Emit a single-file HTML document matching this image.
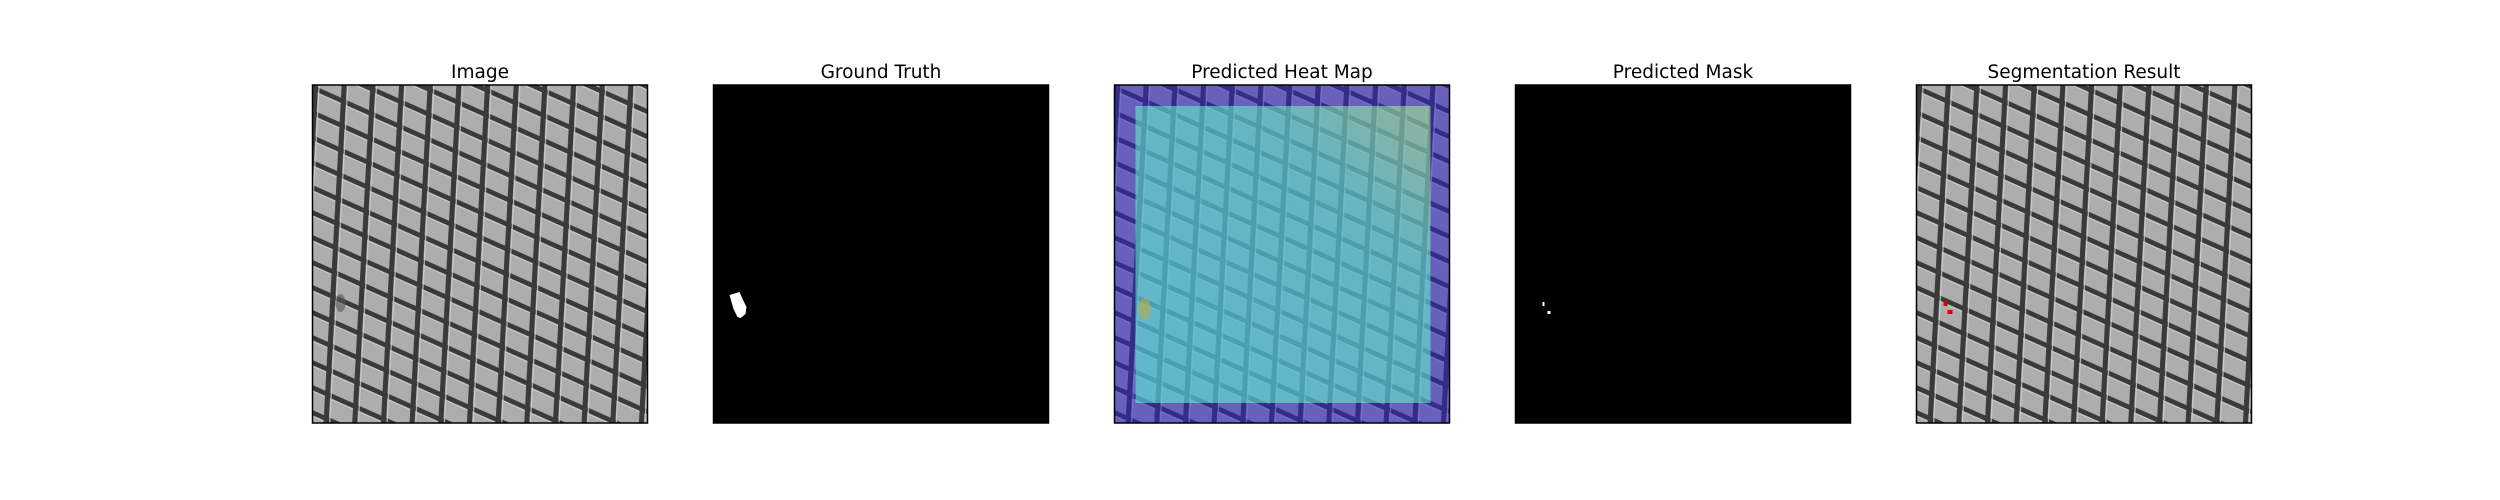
<!DOCTYPE html>
<html><head><meta charset="utf-8"><style>
html,body{margin:0;padding:0;background:#fff;}
svg{display:block;}
text{font-family:"DejaVu Sans","Liberation Sans",sans-serif;font-size:18.5px;fill:#000;}
</style></head><body>
<svg id="fig" width="2500" height="500" viewBox="0 0 2500 500" xmlns="http://www.w3.org/2000/svg">
<defs>
<pattern id="mesh" patternUnits="userSpaceOnUse" width="28" height="25" patternTransform="skewY(24) skewX(-3)">
<rect width="28" height="25" fill="#adadad"/>
<line x1="0" y1="2.5" x2="28" y2="2.5" stroke="#3a3a3a" stroke-width="5.5"/>
<line x1="0" y1="6" x2="28" y2="6" stroke="#d2d2d2" stroke-width="1"/>
<line x1="3" y1="0" x2="3" y2="25" stroke="#3a3a3a" stroke-width="5"/>
<line x1="6.5" y1="0" x2="6.5" y2="25" stroke="#d0d0d0" stroke-width="1"/>
</pattern>
<linearGradient id="hg" x1="0" y1="1" x2="1" y2="0">
<stop offset="0" stop-color="rgba(90,255,215,0.55)"/>
<stop offset="0.7" stop-color="rgba(100,250,200,0.55)"/>
<stop offset="1" stop-color="rgba(180,245,130,0.55)"/>
</linearGradient>
<clipPath id="c0"><rect x="0" y="0" width="335" height="338"/></clipPath>
</defs>
<g id="panels"></g>
</svg>
<script>
var titles = ["Image","Ground Truth","Predicted Heat Map","Predicted Mask","Segmentation Result"];
var panelNames = ["image-panel","ground-truth-panel","heat-map-panel","predicted-mask-panel","segmentation-panel"];
var NS="http://www.w3.org/2000/svg";
var g=document.getElementById('panels');
var L0=312.5, STEP=401, W=335, TOP=85, H=338;
function mk(tag,attrs,parent){var e=document.createElementNS(NS,tag);for(var k in attrs)e.setAttribute(k,attrs[k]);parent.appendChild(e);return e;}
titles.forEach(function(t,i){
  var x=L0+i*STEP;
  var p=mk('g',{transform:'translate('+x+','+TOP+')'},g);
  
  
  var inner=mk('g',{'clip-path':'url(#c0)'},p);
  if(i===0||i===2||i===4){
    mk('rect',{x:0,y:0,width:W,height:H,fill:'url(#mesh)'},inner);
  } else {
    mk('rect',{x:0,y:0,width:W,height:H,fill:'#000'},inner);
  }
  if(i===0){
    mk('ellipse',{cx:28,cy:218,rx:5,ry:9,fill:'#555','opacity':0.6},inner);
  }
  if(i===1){
    var b=mk('path',{d:'M16 210 L26 207 L30 216 L33 222 L32 229 L27 233 L24 232 L20 224 Z',fill:'#fff'},inner);
    
    
  }
  if(i===2){
    var o=mk('rect',{x:0,y:0,width:W,height:H,fill:'rgba(45,35,200,0.55)'},inner);
    
    
    var c=mk('rect',{x:21,y:21,width:295,height:297,fill:'url(#hg)'},inner);
    
    
    mk('ellipse',{cx:30,cy:224,rx:6,ry:11,fill:'rgba(190,170,60,0.6)'},inner);
  }
  if(i===3){
    var d1=mk('rect',{x:27,y:217,width:2,height:4,fill:'#fff'},inner);
    
    
    var d2=mk('rect',{x:32,y:226,width:3,height:3,fill:'#fff'},inner);
    
    
  }
  if(i===4){
    var r1=mk('rect',{x:27,y:216,width:4,height:5,fill:'#e00000'},inner);
    
    
    var r2=mk('rect',{x:31,y:225,width:5,height:4,fill:'#e00000'},inner);
    
    
  }
  var fr=mk('rect',{x:0,y:0,width:W,height:H,fill:'none',stroke:'#000','stroke-width':1.5},p);
  
  
  var tt=mk('text',{x:W/2,y:-7,'text-anchor':'middle'},p);
  tt.textContent=t;
  
  
});
</script>
</body></html>
